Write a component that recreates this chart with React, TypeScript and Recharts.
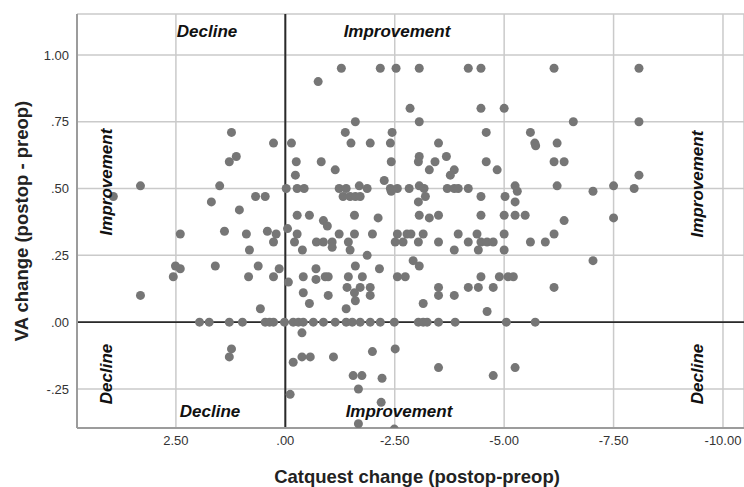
import { ScatterChart, Scatter, XAxis, YAxis, CartesianGrid, ReferenceLine } from "recharts";

// VA change levels (y) and the Catquest change values (x) read at each level
const vaLevels = [
  0.95, 0.9, 0.8, 0.75, 0.71, 0.67, 0.66, 0.62, 0.6, 0.57, 0.55, 0.53, 0.51, 0.5, 0.49, 0.47, 0.45, 0.42,
  0.4, 0.39, 0.38, 0.36, 0.35, 0.34, 0.33, 0.3, 0.28, 0.27, 0.25, 0.23, 0.21, 0.2, 0.17, 0.16, 0.15, 0.13,
  0.11, 0.1, 0.08, 0.07, 0.05, 0.04, 0, -0.04, -0.1, -0.11, -0.13, -0.15, -0.17, -0.2, -0.21, -0.25, -0.27,
  -0.3, -0.38, -0.4,
];

const catquestAtLevel: number[][] = [
  [-1.28, -2.17, -2.53, -3.06, -4.18, -4.47, -6.14, -8.08],
  [-0.75],
  [-2.85, -4.47, -5.0],
  [-1.6, -3.06, -6.58, -8.08],
  [1.23, -1.37, -2.44, -4.59, -5.6],
  [0.27, -0.14, -1.5, -1.94, -2.4, -3.5, -5.7, -6.21],
  [-5.72],
  [1.12, -3.06, -3.68],
  [1.28, -0.25, -0.82, -2.42, -3.04, -3.42, -4.59, -6.14, -6.37],
  [-1.14, -3.29, -3.86, -4.84],
  [-0.23, -3.77, -8.08],
  [-2.26],
  [3.31, 1.5, -1.69, -3.06, -5.25, -6.21, -7.5],
  [-0.02, -0.27, -0.43, -1.23, -1.39, -1.87, -2.4, -2.56, -2.83, -3.17, -3.7, -3.86, -3.95, -4.18, -7.97],
  [-2.42, -5.3, -7.03],
  [3.93, 0.68, 0.46, -1.32, -1.48, -1.6, -1.71, -3.2, -4.47, -5.02],
  [1.69, -3.04, -5.25],
  [1.05],
  [-0.27, -0.55, -1.58, -3.06, -3.5, -4.47, -5.0, -5.25, -5.48],
  [-2.12, -3.29, -7.5],
  [-0.87, -6.37],
  [-0.96],
  [-0.05],
  [1.39, 0.41],
  [2.4, 0.89, 0.21, -0.27, -1.23, -1.58, -1.99, -2.56, -2.78, -2.87, -3.15, -3.95, -4.38, -5.0, -6.14],
  [0.27, -0.21, -0.71, -0.87, -1.07, -1.44, -2.51, -2.69, -3.04, -3.5, -4.18, -4.47, -4.61, -4.75, -5.6, -5.94],
  [-1.07],
  [0.82, -0.39, -1.48, -3.86, -4.41, -5.0],
  [-1.87],
  [-2.92, -7.03],
  [2.51, 1.6, 0.62, -1.6, -3.06],
  [2.4, 0.14, -0.7, -2.15],
  [2.56, 0.84, 0.27, -0.41, -0.91, -0.98, -1.44, -1.76, -2.56, -2.74, -4.47, -4.89, -5.09, -5.21],
  [-0.7],
  [-0.07],
  [-1.41, -1.71, -1.94, -3.5, -4.18, -4.41, -4.75, -6.14],
  [-0.41, -1.58],
  [3.31, -0.98, -1.94, -3.5, -3.86],
  [-1.6],
  [-0.55, -3.15],
  [0.57, -1.39],
  [-4.61],
  [1.96, 1.74, 1.28, 0.98, 0.46, 0.36, 0.27, 0.02, -0.18, -0.3, -0.41, -0.64, -0.87, -1.14, -1.39, -1.53,
    -1.71, -1.94, -2.17, -2.49, -3.04, -3.15, -3.24, -3.5, -3.88, -5.05, -5.71],
  [-0.38],
  [1.23, -2.51],
  [-1.99],
  [1.28, -0.38, -0.57, -1.1],
  [-0.18],
  [-3.5, -5.25],
  [-1.55, -1.75, -4.75],
  [-2.21],
  [-1.67],
  [-0.11],
  [-2.19],
  [-1.67],
  [-2.49],
];

const xTicks = [2.5, 0, -2.5, -5, -7.5, -10];
const yTicks = [-0.25, 0, 0.25, 0.5, 0.75, 1.0];

const points = vaLevels.flatMap((va, i) => catquestAtLevel[i].map((c) => ({ x: c, y: va })));

function fmtSpss(v: number) {
  return v.toFixed(2).replace(/^(-?)0\./, "$1.");
}

const FONT = "'Liberation Sans', Arial, sans-serif";

function Dot(props: any) {
  const { cx, cy } = props;
  if (cx == null || cy == null) return null;
  return <circle cx={cx} cy={cy} r={4.5} fill="#767676" />;
}

export default function App() {
  const note = { fontFamily: FONT, fontSize: 17, fontWeight: 700, fontStyle: "italic" as const, fill: "#111" };
  const title = { fontFamily: FONT, fontSize: 18.5, fontWeight: 700, fill: "#222" };

  return (
    <div style={{ position: "absolute", left: 0, top: 0, width: 744, height: 487, background: "#fff" }}>
      <ScatterChart width={744} height={487} margin={{ top: 14, right: 0, bottom: 0, left: 0 }}>
        <CartesianGrid stroke="#cacaca" strokeWidth={1.5} />
        <XAxis
          type="number"
          dataKey="x"
          domain={[-10.48, 4.76]}
          reversed
          allowDataOverflow
          ticks={xTicks}
          tickFormatter={fmtSpss}
          height={59}
          tickLine={false}
          axisLine={{ stroke: "#9c9c9c", strokeWidth: 2 }}
          tick={{ fill: "#333", fontSize: 13, fontFamily: FONT }}
        />
        <YAxis
          type="number"
          dataKey="y"
          domain={[-0.396, 1.153]}
          allowDataOverflow
          ticks={yTicks}
          tickFormatter={fmtSpss}
          width={77}
          tickLine={false}
          axisLine={{ stroke: "#9c9c9c", strokeWidth: 2 }}
          tick={{ fill: "#333", fontSize: 13, fontFamily: FONT }}
        />
        <ReferenceLine x={0} stroke="#2a2a2a" strokeWidth={2} />
        <ReferenceLine y={0} stroke="#2a2a2a" strokeWidth={1.6} />
        <Scatter data={points} shape={<Dot />} isAnimationActive={false} />
      </ScatterChart>
      <svg
        width={744}
        height={487}
        style={{ position: "absolute", left: 0, top: 0, pointerEvents: "none" }}
      >
        <text x={207} y={37} textAnchor="middle" {...note}>Decline</text>
        <text x={397} y={37} textAnchor="middle" {...note}>Improvement</text>
        <text x={210} y={417} textAnchor="middle" {...note}>Decline</text>
        <text x={399} y={417} textAnchor="middle" {...note}>Improvement</text>
        <text transform="translate(112,182) rotate(-90)" textAnchor="middle" {...note}>Improvement</text>
        <text transform="translate(112,374) rotate(-90)" textAnchor="middle" {...note}>Decline</text>
        <text transform="translate(703,184) rotate(-90)" textAnchor="middle" {...note}>Improvement</text>
        <text transform="translate(703,374) rotate(-90)" textAnchor="middle" {...note}>Decline</text>
        <text x={417} y={483} textAnchor="middle" {...title}>Catquest change (postop-preop)</text>
        <text transform="translate(28,221) rotate(-90)" textAnchor="middle" {...title}>VA change (postop - preop)</text>
      </svg>
    </div>
  );
}
